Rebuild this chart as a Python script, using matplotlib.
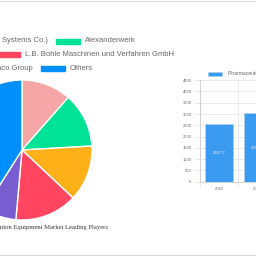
import matplotlib
matplotlib.use("Agg")
import matplotlib.pyplot as plt
from matplotlib.lines import Line2D
from matplotlib.patches import Rectangle

# 左: 主要企業のシェア（%）
players = ["Fluid Air (Spraying Systems Co.)", "Alexanderwerk",
           "Freund-Vector Corporation", "L.B. Bohle Maschinen und Verfahren GmbH",
           "Romaco Group", "Others"]
shares = [11.5, 12.6, 12.9, 14.4, 7.6, 41.0]
colors = ["#F6A6A6", "#00E396", "#FEB019", "#FF4560", "#775DD0", "#008FFB"]

# 右: 市場規模
years = ["2022", "2023"]
sizes = [2557.7, 3032.4]
bar_name = "Pharmaceutical Granulation Equipment Market Size"
title = "Pharmaceutical Granulation Equipment Market Leading Players"

W = H = 256
SANS = "Liberation Sans"
GRID = "#e6e6e6"
TXT = "#666666"


def fx(px):
    return px / W


def fy(py):
    return 1 - py / H


fig = plt.figure(figsize=(2.56, 2.56), dpi=100)
fig.patch.set_facecolor("white")
renderer = fig.canvas.get_renderer()

# --- 円グラフ（中心 x=22, y=150, 半径 70px）
ax_p = fig.add_axes([fx(22 - 70), fy(220), 140 / W, 140 / H])
ax_p.pie(shares, colors=colors, startangle=90, counterclock=False,
         wedgeprops=dict(edgecolor="white", linewidth=1.0))
ax_p.set_xlim(-1, 1)
ax_p.set_ylim(-1, 1)
ax_p.axis("off")

# 凡例（Chart.js風に行ごとに中央寄せ）
rows = [(0, 1), (2, 3), (4, 5)]
row_y = [41, 54.5, 68.5]
second_x = [56, -4, 41]
for (i1, i2), yc, x2 in zip(rows, row_y, second_x):
    fig.add_artist(Rectangle((fx(x2), fy(yc + 2.5)), 24 / W, 5 / H,
                             transform=fig.transFigure, color=colors[i2]))
    fig.text(fx(x2 + 29), fy(yc), players[i2], ha="left", va="center",
             fontsize=5.5, color=TXT, family=SANS)
    t1 = fig.text(fx(x2 - 8), fy(yc), players[i1], ha="right", va="center",
                  fontsize=5.5, color=TXT, family=SANS)
    w1 = t1.get_window_extent(renderer).width
    fig.add_artist(Rectangle((fx(x2 - 8 - w1 - 29), fy(yc + 2.5)), 24 / W, 5 / H,
                             transform=fig.transFigure, color=colors[i1]))

fig.text(fx(108), fy(227.5), title, ha="right", va="center",
         fontsize=4.8, color="#333333", family="Liberation Serif")

# --- 棒グラフ
n = len(years)
ax_b = fig.add_axes([fx(200), fy(181.7), 38.3 * n / W, 101.5 / H])
bars = ax_b.bar(range(n), sizes, width=0.72, color="#3A9AEF",
                edgecolor="#A8D0F6", linewidth=0.7, zorder=3)
ax_b.bar_label(bars, labels=[f"{v:.1f}" for v in sizes], label_type="center",
               fontsize=3.1, color="#e8f2fc", family=SANS)
ax_b.set_xlim(-0.5, n - 0.5)
ax_b.set_ylim(0, 4500)
ax_b.set_yticks(range(0, 4501, 500))
ax_b.set_xticks(range(n), years)
ax_b.set_xticks([i - 0.5 for i in range(n + 1)], minor=True)
ax_b.grid(axis="y", color=GRID, lw=0.6, zorder=0)
ax_b.grid(axis="x", which="minor", color=GRID, lw=0.6, zorder=0)
ax_b.tick_params(axis="y", length=4.3, width=0.6, color=GRID, pad=1.8,
                 labelsize=3.0, labelcolor=TXT)
ax_b.tick_params(axis="x", which="major", length=0, pad=4.0,
                 labelsize=3.0, labelcolor=TXT)
ax_b.tick_params(axis="x", which="minor", length=3.6, width=0.6, color=GRID)
for lab in ax_b.get_xticklabels() + ax_b.get_yticklabels():
    lab.set_family(SANS)
for s in ("top", "right"):
    ax_b.spines[s].set_visible(False)
for s in ("left", "bottom"):
    ax_b.spines[s].set_color("#cccccc")
    ax_b.spines[s].set_linewidth(0.6)

fig.add_artist(Rectangle((fx(207.7), fy(76)), 14.6 / W, 4 / H,
                         transform=fig.transFigure, facecolor="#3A9AEF",
                         edgecolor="#A8D0F6", linewidth=0.4))
fig.text(fx(227.7), fy(74), bar_name, ha="left", va="center",
         fontsize=3.6, color=TXT, family=SANS)

# 上下の枠線
for y in (0.5, 254.5):
    fig.add_artist(Line2D([0, 1], [fy(y), fy(y)], transform=fig.transFigure,
                          color="#d6d6d6", lw=0.72))

fig.savefig("out.png", dpi=100)
